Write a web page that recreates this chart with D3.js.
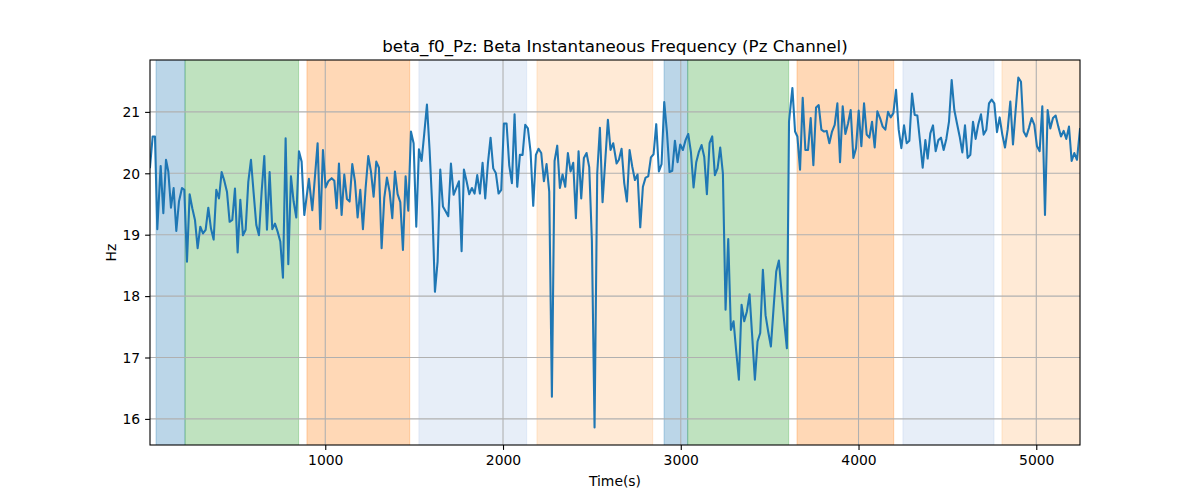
<!DOCTYPE html>
<html>
<head>
<meta charset="utf-8">
<script src="https://cdn.jsdelivr.net/npm/d3@7"></script>
<style>
  html, body { margin: 0; padding: 0; background: #ffffff; }
  svg { display: block; }
  text { font-family: "DejaVu Sans", sans-serif; fill: #000; }
</style>
</head>
<body>
<svg id="chart" width="1200" height="500"></svg>
<script>
// ---- data ----
const times = [
  14,29,42,55,74,89,104,117,132,147,162,177,194,207,222,237,252,267,282,297,312,327,342,357,372,387,402,417,432,447,462,477,492,507,522,537,552,567,582,597,612,627,642,657,672,687,702,717,732,747,762,777,792,807,822,837,852,867,882,
  908,927,957,972,987,1002,1017,1036,1051,1064,1077,1092,1107,1122,1137,1152,1167,1182,1197,1212,1227,1242,1257,1272,1287,1302,1317,1332,1347,1362,1377,1392,1407,1422,1437,1452,1467,1482,1497,1512,1527,1542,1557,1572,1587,1602,1617,1632,1647,1662,1677,1692,1707,1722,1737,1752,
  1767,1780,1795,1810,1825,1840,1855,1870,1885,1900,1915,1930,1945,1960,1975,1990,2005,2020,2035,2050,2065,2080,2095,2110,2125,2140,2155,2170,2185,2200,2215,2230,2245,2260,2275,2290,2305,2320,2335,2350,2365,2380,2395,2410,2425,2440,2455,2470,2485,2500,2515,2530,2545,2560,2575,2590,2605,2620,
  2639,2652,2667,2682,2697,2712,2727,2742,2757,2772,2787,2802,2817,2832,2847,2862,2877,2892,2907,2922,2937,2952,2967,2982,2997,3012,3027,3042,3057,3072,3087,3102,3117,3132,3147,3162,3177,3192,3207,3222,3237,3252,3267,3282,3297,3312,3327,3342,3357,3372,3387,3402,3417,3432,3447,3462,3477,3492,3507,3522,3537,3552,3567,3582,3597,
  3609,3628,3643,3656,3671,3686,3701,3716,3731,3746,3761,3776,3791,3806,3821,3836,3851,3866,3881,3896,3911,3926,3941,3956,3971,3986,4001,4016,4031,4046,4061,4076,4091,4106,4121,4136,4151,4166,4181,4196,4211,4226,4241,4256,4271,4286,4301,4316,4331,4346,4361,4376,
  4389,4404,4419,4434,4449,4464,4479,4494,4509,4524,4539,4554,4569,4584,4599,4614,4629,4644,4659,4674,4689,4704,4719,4734,4749,4764,4779,4794,4809,4824,4839,4854,4869,4884,4899,4914,4929,4944,4959,4974,4989,5004,5019,5034,5049,5064,5079,5094,5109,5124,5139,5154,5169,5184,5199,5214,5229,5246
];
const freqs = [
  20.10,20.60,20.60,19.09,20.12,19.35,20.22,20.03,19.44,19.76,19.06,19.54,19.76,19.73,18.56,19.66,19.43,19.24,18.78,19.13,19.02,19.08,19.44,19.10,18.92,19.73,19.59,20.02,19.88,19.70,19.21,19.24,19.75,18.71,19.57,18.99,19.08,19.86,20.22,19.68,19.16,18.99,19.70,20.28,19.08,20.02,19.09,19.18,19.05,18.89,18.30,20.57,18.52,19.95,19.54,19.28,20.36,20.19,19.32,
  19.91,19.40,20.49,19.09,20.38,19.77,19.87,19.92,19.88,19.43,20.16,19.32,19.98,19.58,19.54,20.15,19.87,19.28,19.73,19.09,19.76,20.28,20.03,19.62,20.19,20.09,18.78,19.60,19.93,19.70,19.27,20.03,19.66,19.53,18.75,19.95,19.39,20.68,20.49,19.13,20.39,20.20,20.65,21.12,20.38,19.46,18.07,18.56,20.06,19.46,19.38,19.30,20.16,19.65,19.76,19.87,
  18.73,20.06,19.87,19.66,19.76,19.67,19.97,19.67,20.17,19.59,20.16,20.58,20.08,20.00,19.67,19.73,20.81,20.81,20.13,19.84,20.96,19.78,20.30,20.30,20.79,20.73,20.35,19.47,20.30,20.40,20.33,19.87,20.15,19.70,16.36,20.20,20.45,19.76,19.98,19.78,20.33,20.03,20.17,19.27,20.36,19.59,20.25,20.33,20.10,18.90,15.86,20.00,20.74,19.53,20.20,20.87,20.38,20.49,
  20.16,20.22,20.40,19.84,19.54,20.38,20.11,19.89,19.98,19.12,19.78,19.93,19.95,20.26,20.31,20.80,20.03,20.15,21.16,20.68,20.02,20.04,20.53,20.18,20.47,20.38,20.54,20.64,20.35,19.77,20.18,20.35,20.46,20.27,19.66,20.49,20.60,19.97,20.08,20.42,20.00,17.78,18.93,17.45,17.59,17.10,16.64,17.86,17.59,17.75,18.03,17.34,16.64,17.26,17.40,18.43,17.69,17.42,17.18,17.80,18.40,18.58,18.06,17.58,17.15,
  20.84,21.39,20.68,20.60,20.06,21.23,20.38,20.38,20.90,20.13,21.07,21.11,20.71,20.68,20.69,20.49,20.68,20.79,21.14,20.18,21.09,20.64,20.81,21.03,20.25,20.41,21.02,20.44,21.14,20.63,20.58,20.84,20.42,21.01,20.90,20.76,20.71,21.00,20.91,20.98,21.36,20.71,20.41,20.78,20.49,20.53,21.30,20.95,20.94,20.52,20.09,20.54,
  20.24,20.65,20.78,20.36,20.54,20.58,20.38,20.56,20.84,21.52,21.03,20.81,20.60,20.34,20.78,20.25,20.30,20.84,20.56,20.80,20.96,20.63,20.71,21.14,21.20,21.14,20.67,20.91,20.63,20.42,20.71,21.17,20.47,21.03,21.56,21.49,20.68,20.60,20.74,20.90,20.79,20.44,20.36,21.09,19.32,21.03,20.73,20.90,20.94,20.76,20.60,20.69,20.56,20.76,20.20,20.33,20.22,20.72
];
const bandStart = [48, 211, 897, 1527, 2191, 2906, 3039, 3654, 4250, 4807];
const bandEnd   = [211, 850, 1475, 2133, 2842, 3039, 3607, 4198, 4762, 5400];
const bandKind  = ["blue","green","orange","lblue","lorange","blue","green","orange","lblue","lorange"];
const xTicks = [1000, 2000, 3000, 4000, 5000];
const yTicks = [16, 17, 18, 19, 20, 21];
const titleText = "beta_f0_Pz: Beta Instantaneous Frequency (Pz Channel)";
const xLabel = "Time(s)";
const yLabel = "Hz";

// ---- styles ----
const bandStyle = {
  blue:    { color: "#1f77b4", alpha: 0.3 },
  green:   { color: "#2ca02c", alpha: 0.3 },
  orange:  { color: "#ff7f0e", alpha: 0.3 },
  lblue:   { color: "#aec7e8", alpha: 0.3 },
  lorange: { color: "#ffbb78", alpha: 0.3 }
};

const W = 1200, H = 500;
const M = { left: 150, right: 1080, top: 60, bottom: 445 };

const svg = d3.select("#chart");

const points = times.map((t, i) => ({ t, v: freqs[i] }));

const x = d3.scaleLinear().domain(d3.extent(times)).range([M.left, M.right]);
const [vmin, vmax] = d3.extent(freqs);
const pad = (vmax - vmin) * 0.05;
const y = d3.scaleLinear().domain([vmin - pad, vmax + pad]).range([M.bottom, M.top]);

svg.append("defs").append("clipPath").attr("id", "plotclip")
  .append("rect").attr("x", M.left).attr("y", M.top)
  .attr("width", M.right - M.left).attr("height", M.bottom - M.top);

const plot = svg.append("g").attr("clip-path", "url(#plotclip)");

// bands
plot.append("g").selectAll("rect")
  .data(bandStart.map((s, i) => ({ s, e: bandEnd[i], k: bandKind[i] })))
  .join("rect")
  .attr("x", d => x(d.s))
  .attr("y", M.top - 2)
  .attr("width", d => x(d.e) - x(d.s))
  .attr("height", M.bottom - M.top + 4)
  .attr("fill", d => bandStyle[d.k].color)
  .attr("fill-opacity", d => bandStyle[d.k].alpha)
  .attr("stroke", d => bandStyle[d.k].color)
  .attr("stroke-opacity", d => bandStyle[d.k].alpha)
  .attr("stroke-width", 1);

// grid
const grid = plot.append("g").attr("stroke", "#b0b0b0").attr("stroke-width", 1.1);
grid.selectAll("line.gx").data(xTicks).join("line").attr("class", "gx")
  .attr("x1", d => x(d)).attr("x2", d => x(d))
  .attr("y1", M.top).attr("y2", M.bottom);
grid.selectAll("line.gy").data(yTicks).join("line").attr("class", "gy")
  .attr("x1", M.left).attr("x2", M.right)
  .attr("y1", d => y(d)).attr("y2", d => y(d));

// line
const line = d3.line().x(d => x(d.t)).y(d => y(d.v));
plot.append("path").datum(points)
  .attr("d", line)
  .attr("fill", "none")
  .attr("stroke", "#1f77b4")
  .attr("stroke-width", 2.08)
  .attr("stroke-linejoin", "round")
  .attr("stroke-linecap", "square");

// axes
const xAxis = d3.axisBottom(x).tickValues(xTicks).tickSize(4.9).tickPadding(3.5).tickFormat(d3.format("d"));
const yAxis = d3.axisLeft(y).tickValues(yTicks).tickSize(4.9).tickPadding(3.5).tickFormat(d3.format("d"));

const gx = svg.append("g").attr("transform", `translate(0,${M.bottom})`).call(xAxis);
const gy = svg.append("g").attr("transform", `translate(${M.left},0)`).call(yAxis);
[gx, gy].forEach(g => {
  g.select(".domain").remove();
  g.selectAll(".tick line").attr("stroke", "#000").attr("stroke-width", 1.1);
  g.selectAll(".tick text").attr("font-family", "DejaVu Sans").attr("font-size", "13.9px").attr("fill", "#000");
});
gx.selectAll(".tick text").attr("dy", "0.71em").attr("y", 9.8);
gy.selectAll(".tick text").attr("dy", "0.35em").attr("x", -9.8);

// spines
svg.append("rect")
  .attr("x", M.left).attr("y", M.top)
  .attr("width", M.right - M.left).attr("height", M.bottom - M.top)
  .attr("fill", "none").attr("stroke", "#000").attr("stroke-width", 1.1);

// title & labels
svg.append("text")
  .attr("x", (M.left + M.right) / 2).attr("y", 51.7)
  .attr("text-anchor", "middle")
  .attr("font-size", "16.7px")
  .text(titleText);

svg.append("text")
  .attr("x", (M.left + M.right) / 2).attr("y", 485.5)
  .attr("text-anchor", "middle")
  .attr("font-size", "13.9px")
  .text(xLabel);

svg.append("text")
  .attr("transform", `translate(115.5,${(M.top + M.bottom) / 2}) rotate(-90)`)
  .attr("text-anchor", "middle")
  .attr("font-size", "13.9px")
  .text(yLabel);
</script>
</body>
</html>
